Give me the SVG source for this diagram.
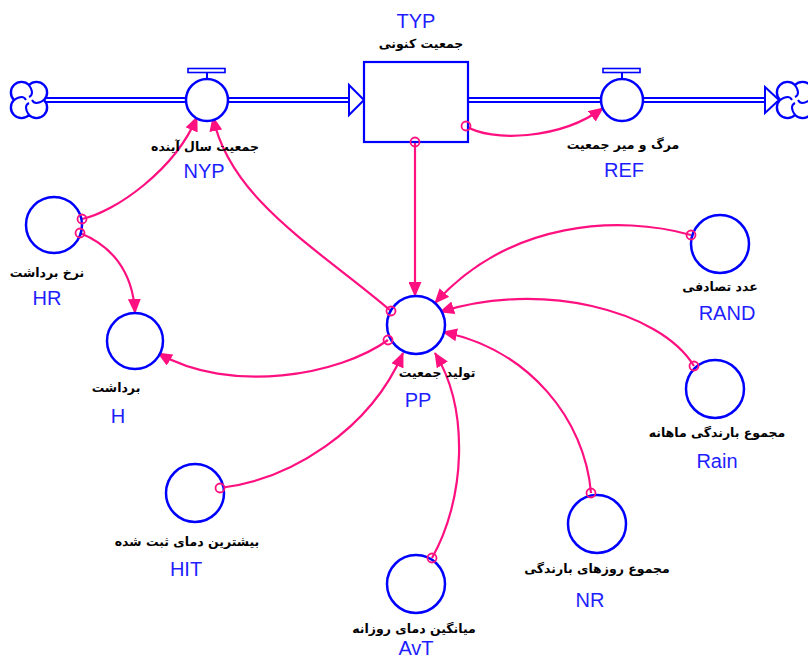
<svg xmlns="http://www.w3.org/2000/svg" width="808" height="661" viewBox="0 0 808 661">
<style>
.bg{fill:#fff}
.aux{fill:#fff;stroke:#0000ff;stroke-width:2.5}
.stock{fill:#fff;stroke:#0000ff;stroke-width:2.2}
.pipeo{fill:none;stroke:#0000ff;stroke-width:6}
.pipei{fill:none;stroke:#fff;stroke-width:2}
.tri{fill:#fff;stroke:#0000ff;stroke-width:2;stroke-linejoin:miter}
.cloud{fill:#fff;stroke:#0000ff;stroke-width:2.4}
.swirl{fill:none;stroke:#0000ff;stroke-width:2}
.bar{fill:#fff;stroke:#0000ff;stroke-width:1.6}
.stem{stroke:#0000ff;stroke-width:2}
.link{fill:none;stroke:#ff1080;stroke-width:2.2;marker-end:url(#ah)}
.org{fill:none;stroke:#ff1080;stroke-width:1.8}
.fa{font-family:"DejaVu Sans",sans-serif;font-size:12.5px;fill:#000;text-anchor:middle;font-weight:bold}
.en{font-family:"Liberation Sans",Arial,sans-serif;font-size:20px;fill:#1e1eff;text-anchor:middle}
</style>
<defs>
<marker id="ah" markerUnits="userSpaceOnUse" markerWidth="15" markerHeight="13" viewBox="0 0 15 13" refX="14" refY="6.5" orient="auto">
<path d="M0,0 L15,6.5 L0,13 Z" fill="#ff1080"/>
</marker>
<g id="cloudshape">
<path class="cloud" d="M-15,0 A10.5,10.5 0 0 1 0,-15 A10.5,10.5 0 0 1 15,0 A10.5,10.5 0 0 1 0,15 A10.5,10.5 0 0 1 -15,0 Z"/>
<path class="swirl" d="M0,-15 Q6,-6 0,-3 M15,0 Q6,6 3,0 M0,15 Q-6,6 0,3 M-15,0 Q-6,-6 -3,0"/>
</g>
</defs>
<rect class="bg" x="0" y="0" width="808" height="661"/>

<g id="flows">
<path class="pipeo" d="M44,100 H350 M468,100 H766"/>
<path class="pipei" d="M44,100 H352 M468,100 H768"/>
<polygon class="tri" points="349,85 364,100 349,115"/>
<polygon class="tri" points="765,87 779,100 765,113"/>
</g>

<g id="source"><use href="#cloudshape" transform="translate(29,100)"/></g>
<g id="sink"><use href="#cloudshape" transform="translate(795,100)"/></g>

<g id="connectors">
<path class="link" d="M82,219 C115,212 175,170 197,117"/>
<path class="link" d="M80,233 C110,245 133,270 135,313"/>
<path class="link" d="M391,311 C320,250 230,200 213,117"/>
<path class="link" d="M415,142 L415,296"/>
<path class="link" d="M466,126 C490,142 560,140 603,108"/>
<path class="link" d="M388,340 C340,375 230,395 158,353"/>
<path class="link" d="M691,235 C620,215 510,220 435,303"/>
<path class="link" d="M694,366 C660,310 540,280 440,312"/>
<path class="link" d="M591,493 C585,420 530,350 443,332"/>
<path class="link" d="M432,558 C465,500 470,410 435,353"/>
<path class="link" d="M220,488 C290,480 370,430 403,353"/>
</g>

<g id="TYP">
<rect class="stock" x="364" y="62" width="104" height="80"/>
<text class="en" x="416" y="28">TYP</text>
<text class="fa" x="421" y="48">جمعیت کنونی</text>
</g>

<g id="NYP">
<rect class="bar" x="188" y="68.5" width="37" height="4"/>
<line class="stem" x1="207" y1="72.5" x2="207" y2="80"/>
<circle class="aux" cx="207" cy="100" r="21"/>
<text class="fa" x="205" y="151">جمعیت سال آینده</text>
<text class="en" x="204" y="178">NYP</text>
</g>

<g id="REF">
<rect class="bar" x="603" y="68.5" width="37" height="4"/>
<line class="stem" x1="622" y1="72.5" x2="622" y2="80"/>
<circle class="aux" cx="622" cy="100" r="21"/>
<text class="fa" x="623" y="149">مرگ و میر جمعیت</text>
<text class="en" x="624" y="177">REF</text>
</g>

<g id="HR">
<circle class="aux" cx="54" cy="225" r="28"/>
<text class="fa" x="47" y="277">نرخ برداشت</text>
<text class="en" x="47" y="305">HR</text>
</g>

<g id="H">
<circle class="aux" cx="135" cy="341" r="28"/>
<text class="fa" x="116" y="392">برداشت</text>
<text class="en" x="118" y="423">H</text>
</g>

<g id="PP">
<circle class="aux" cx="416" cy="325" r="29"/>
<text class="fa" x="437" y="377">تولید جمعیت</text>
<text class="en" x="418" y="407">PP</text>
</g>

<g id="RAND">
<circle class="aux" cx="720" cy="244" r="29"/>
<text class="fa" x="720" y="291">عدد تصادفی</text>
<text class="en" x="727" y="320">RAND</text>
</g>

<g id="Rain">
<circle class="aux" cx="715" cy="389" r="29"/>
<text class="fa" x="717" y="437">مجموع بارندگی ماهانه</text>
<text class="en" x="717" y="468">Rain</text>
</g>

<g id="HIT">
<circle class="aux" cx="195" cy="493" r="29"/>
<text class="fa" x="187" y="546">بیشترین دمای ثبت شده</text>
<text class="en" x="186" y="576">HIT</text>
</g>

<g id="AvT">
<circle class="aux" cx="416" cy="584" r="29"/>
<text class="fa" x="414" y="633">میانگین دمای روزانه</text>
<text class="en" x="416" y="655">AvT</text>
</g>

<g id="NR">
<circle class="aux" cx="597" cy="524" r="29"/>
<text class="fa" x="597" y="573">مجموع روزهای بارندگی</text>
<text class="en" x="590" y="607">NR</text>
</g>

<g id="origins">
<circle class="org" cx="82" cy="219" r="4.5"/>
<circle class="org" cx="80" cy="233" r="4.5"/>
<circle class="org" cx="391" cy="311" r="4.5"/>
<circle class="org" cx="388" cy="340" r="4.5"/>
<circle class="org" cx="415" cy="142" r="4.5"/>
<circle class="org" cx="466" cy="126" r="4.5"/>
<circle class="org" cx="691" cy="235" r="4.5"/>
<circle class="org" cx="694" cy="366" r="4.5"/>
<circle class="org" cx="591" cy="493" r="4.5"/>
<circle class="org" cx="432" cy="558" r="4.5"/>
<circle class="org" cx="220" cy="488" r="4.5"/>
</g>
</svg>
